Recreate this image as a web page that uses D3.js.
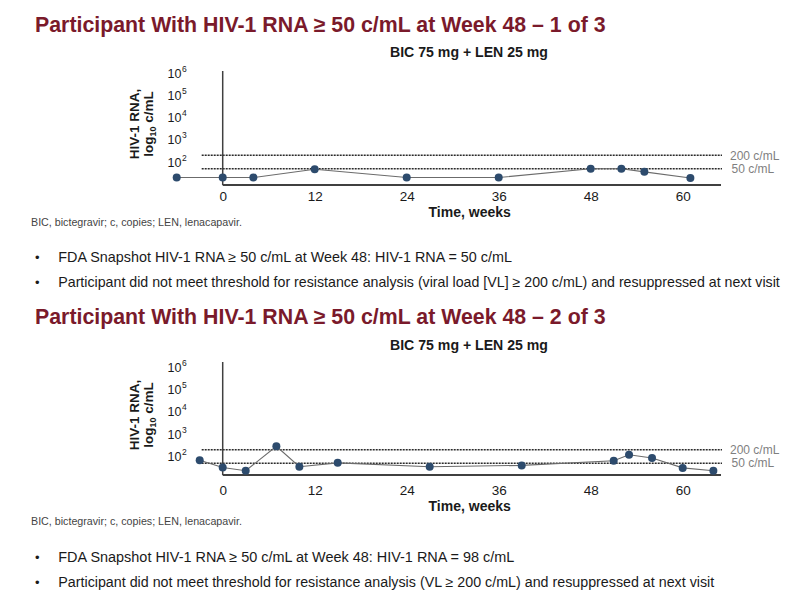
<!DOCTYPE html>
<html><head><meta charset="utf-8">
<script src="https://cdn.jsdelivr.net/npm/d3@7"></script>
<style>
html,body{margin:0;padding:0;background:#fff;}
text{font-family:"Liberation Sans",Arial,sans-serif;}
</style></head>
<body><svg id="c" width="807" height="607"></svg>
<script>
// ---- data ----
const titles = ["Participant With HIV-1 RNA \u2265 50 c/mL at Week 48 \u2013 1 of 3",
                "Participant With HIV-1 RNA \u2265 50 c/mL at Week 48 \u2013 2 of 3"];
const armLabel = "BIC 75 mg + LEN 25 mg";
const weeks1 = [-6, 0, 4, 12, 24, 36, 48, 52, 55, 61];
const rna1   = [20, 20, 20, 47, 20, 20, 50, 50, 36, 19];
const weeks2 = [-3, 0, 3, 7, 10, 15, 27, 39, 51, 53, 56, 60, 64];
const rna2   = [68, 32, 23, 285, 35, 52, 35, 40, 65, 120, 86, 31, 23];
const xTicks = [0, 12, 24, 36, 48, 60];
const yTickExps = [2, 3, 4, 5, 6];
const thresholds = [200, 50];
const thresholdLabels = ["200 c/mL", "50 c/mL"];
const footnote = "BIC, bictegravir; c, copies; LEN, lenacapavir.";
const bullets1 = ["FDA Snapshot HIV-1 RNA \u2265 50 c/mL at Week 48: HIV-1 RNA = 50 c/mL",
                  "Participant did not meet threshold for resistance analysis (viral load [VL] \u2265 200 c/mL) and resuppressed at next visit"];
const bullets2 = ["FDA Snapshot HIV-1 RNA \u2265 50 c/mL at Week 48: HIV-1 RNA = 98 c/mL",
                  "Participant did not meet threshold for resistance analysis (VL \u2265 200 c/mL) and resuppressed at next visit"];

// ---- layout ----
const svg = d3.select("#c");
const x = d3.scaleLinear().domain([0, 60]).range([222.7, 682.7]);
const xAxisEnd = 721, dashStart = 201.7, dashEnd = 722;

function fit(sel, w){
  const n = sel.node(); const L = n.getComputedTextLength();
  const fs = parseFloat(sel.attr("font-size"));
  sel.attr("font-size", (fs * w / L).toFixed(2));
  return fs * w / L;
}

const panels = [
  {title: titles[0], titleY: 31.7, subY: 56.7, y2: 162, y6: 73, axTop: 71, axBase: 185,
   weeks: weeks1, rna: rna1, tickY: 201, timeY: 217, ytCenter: 124, footY: 225.7,
   bullets: bullets1, bY: [261.7, 286.7], bW: [454, 721.7]},
  {title: titles[1], titleY: 324.3, subY: 349.5, y2: 456.5, y6: 367, axTop: 362, axBase: 475,
   weeks: weeks2, rna: rna2, tickY: 494.5, timeY: 510.5, ytCenter: 415, footY: 525,
   bullets: bullets2, bY: [561.7, 586.7], bW: [456.5, 656]}
];

panels.forEach((p, pi) => {
  const g = svg.append("g");
  const y = d3.scaleLog().domain([1e2, 1e6]).range([p.y2, p.y6]);

  const t = g.append("text").attr("x", 35).attr("y", p.titleY).attr("font-size", 20)
    .attr("font-weight", "bold").attr("fill", "#7a1a2b").text(p.title);
  fit(t, 571);

  const s = g.append("text").attr("x", 469).attr("y", p.subY).attr("font-size", 12)
    .attr("font-weight", "bold").attr("fill", "#1a1a1a").attr("text-anchor", "middle").text(armLabel);
  fit(s, 158);

  // y-axis title
  const yt = g.append("text").attr("transform", `translate(0,${p.ytCenter}) rotate(-90)`)
    .attr("text-anchor", "middle").attr("font-weight", "bold").attr("font-size", 13.5).attr("fill", "#1a1a1a");
  yt.append("tspan").attr("x", 0).attr("y", 139.3).text("HIV-1 RNA,");
  const l2 = yt.append("tspan").attr("x", 0).attr("y", 152.5).text("log");
  l2.append("tspan").attr("font-size", 9).attr("dy", 3).text("10");
  l2.append("tspan").attr("dy", -3).text(" c/mL");

  // y tick labels
  yTickExps.forEach(e => {
    g.append("text").attr("x", 181.5).attr("y", y(Math.pow(10, e)) + 4.5)
      .attr("text-anchor", "end").attr("font-size", 12.5).attr("fill", "#1a1a1a").text("10");
    g.append("text").attr("x", 182).attr("y", y(Math.pow(10, e)) - 1.5)
      .attr("font-size", 8.5).attr("fill", "#1a1a1a").text(e);
  });

  // threshold lines
  thresholds.forEach((v, i) => {
    g.append("line").attr("x1", dashStart).attr("x2", dashEnd).attr("y1", y(v)).attr("y2", y(v))
      .attr("stroke", "#2a2a2a").attr("stroke-width", 1.6).attr("stroke-dasharray", "2,1");
    g.append("text").attr("x", i === 0 ? 730 : 731.5).attr("y", y(v) + 4.2)
      .attr("font-size", 12).attr("fill", "#7f7f7f").text(thresholdLabels[i]);
  });

  // axes
  g.append("line").attr("x1", x(0)).attr("x2", x(0)).attr("y1", p.axTop).attr("y2", p.axBase)
    .attr("stroke", "#404040").attr("stroke-width", 1.5);
  g.append("line").attr("x1", x(0)).attr("x2", xAxisEnd).attr("y1", p.axBase).attr("y2", p.axBase)
    .attr("stroke", "#404040").attr("stroke-width", 1.8);

  const ax = g.append("g").attr("transform", `translate(0,${p.tickY})`)
    .call(d3.axisBottom(x).tickValues(xTicks).tickSize(0).tickPadding(0));
  ax.select(".domain").remove();
  ax.selectAll("text").attr("font-size", 13.5).attr("fill", "#1a1a1a").attr("dy", 0)
    .attr("font-family", "Liberation Sans, Arial, sans-serif");

  g.append("text").attr("x", 469.7).attr("y", p.timeY).attr("text-anchor", "middle")
    .attr("font-size", 14).attr("font-weight", "bold").attr("fill", "#1a1a1a").text("Time, weeks");

  // data
  const data = p.weeks.map((w, i) => ({w, v: p.rna[i]}));
  g.append("path").datum(data)
    .attr("d", d3.line().x(d => x(d.w)).y(d => y(d.v)))
    .attr("fill", "none").attr("stroke", "#6b6b6b").attr("stroke-width", 1.1);
  g.selectAll("circle.pt").data(data).join("circle").attr("class", "pt")
    .attr("cx", d => x(d.w)).attr("cy", d => y(d.v)).attr("r", 4).attr("fill", "#2d4b6d");

  // footnote
  const f = g.append("text").attr("x", 31).attr("y", p.footY).attr("font-size", 9)
    .attr("fill", "#444").text(footnote);
  fit(f, 211);

  // bullets
  p.bullets.forEach((b, i) => {
    g.append("text").attr("x", 35).attr("y", p.bY[i]).attr("font-size", 13).attr("fill", "#1a1a1a").text("\u2022");
    const bt = g.append("text").attr("x", 58.3).attr("y", p.bY[i]).attr("font-size", 14)
      .attr("fill", "#1a1a1a").text(b);
    fit(bt, p.bW[i]);
  });
});
</script></body></html>
